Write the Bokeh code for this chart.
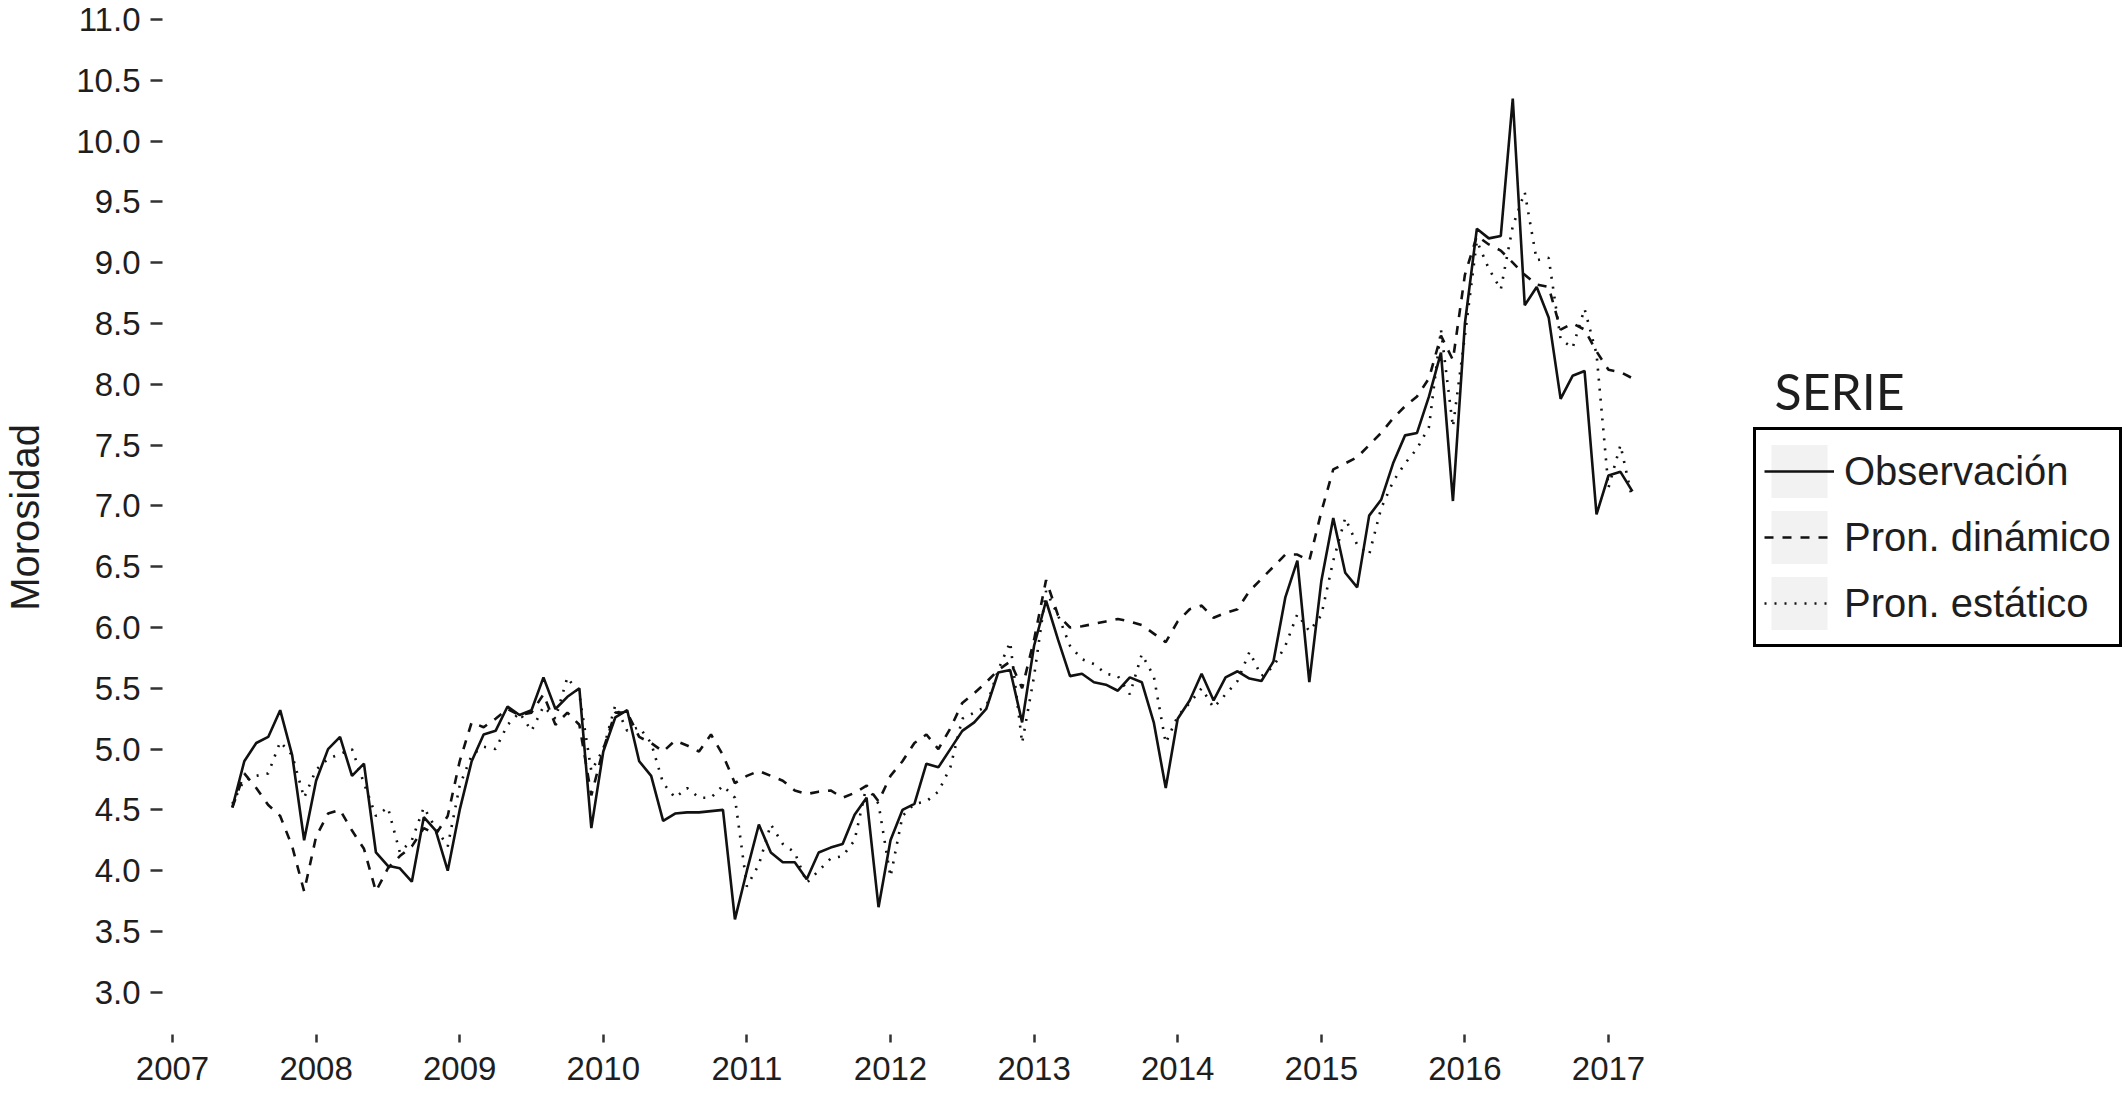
import pandas as pd
from bokeh.plotting import figure
from bokeh.models import (ColumnDataSource, Range1d, FixedTicker, PrintfTickFormatter,
                          Legend, LegendItem, Label)
from bokeh.embed import file_html
from bokeh.resources import INLINE

# ---------------- data (monthly, Jun 2007 - Mar 2017) ----------------
start_month = "2007-06-01"

observacion = [
    4.52, 4.90, 5.05, 5.10, 5.32, 4.95, 4.25,                                  # 2007 Jun-Dec
    4.74, 5.00, 5.10, 4.78, 4.88, 4.15, 4.04, 4.02, 3.91, 4.44, 4.33, 4.00,    # 2008
    4.50, 4.90, 5.12, 5.15, 5.35, 5.28, 5.32, 5.59, 5.33, 5.43, 5.50, 4.35,    # 2009
    4.98, 5.26, 5.32, 4.90, 4.78, 4.41, 4.47, 4.48, 4.48, 4.49, 4.50, 3.60,    # 2010
    4.00, 4.38, 4.15, 4.07, 4.07, 3.93, 4.15, 4.19, 4.22, 4.46, 4.60, 3.70,    # 2011
    4.25, 4.50, 4.55, 4.88, 4.85, 5.00, 5.15, 5.22, 5.33, 5.63, 5.65, 5.22,    # 2012
    5.85, 6.22, 5.90, 5.60, 5.62, 5.55, 5.53, 5.48, 5.59, 5.55, 5.22, 4.68,    # 2013
    5.25, 5.40, 5.62, 5.40, 5.59, 5.64, 5.58, 5.56, 5.72, 6.25, 6.55, 5.55,    # 2014
    6.38, 6.90, 6.45, 6.33, 6.92, 7.05, 7.35, 7.58, 7.60, 7.90, 8.26, 7.04,    # 2015
    8.50, 9.28, 9.20, 9.22, 10.35, 8.65, 8.80, 8.55, 7.88, 8.07, 8.11, 6.93,   # 2016
    7.25, 7.28, 7.12,                                                          # 2017 Jan-Mar
]

pron_dinamico = [
    4.52, 4.80, 4.68, 4.54, 4.45, 4.20, 3.83,
    4.28, 4.47, 4.50, 4.33, 4.18, 3.83, 4.02, 4.12, 4.20, 4.35, 4.30, 4.45,
    4.90, 5.22, 5.18, 5.25, 5.33, 5.28, 5.30, 5.45, 5.20, 5.30, 5.20, 4.62,
    5.00, 5.30, 5.30, 5.10, 5.05, 4.98, 5.07, 5.03, 4.98, 5.12, 4.95, 4.72,
    4.78, 4.82, 4.78, 4.74, 4.66, 4.63, 4.65, 4.66, 4.60, 4.64, 4.70, 4.57,
    4.78, 4.90, 5.05, 5.12, 5.00, 5.17, 5.38, 5.46, 5.55, 5.65, 5.72, 5.50,
    5.90, 6.39, 6.10, 6.00, 6.01, 6.03, 6.05, 6.07, 6.05, 6.02, 5.95, 5.88,
    6.05, 6.15, 6.18, 6.08, 6.12, 6.15, 6.30, 6.40, 6.50, 6.60, 6.60, 6.55,
    6.95, 7.30, 7.35, 7.40, 7.50, 7.60, 7.72, 7.82, 7.90, 8.05, 8.40, 8.20,
    8.90, 9.22, 9.15, 9.10, 9.00, 8.90, 8.82, 8.80, 8.45, 8.50, 8.45, 8.27,
    8.12, 8.10, 8.05,
]

pron_estatico = [
    4.55, 4.75, 4.78, 4.80, 5.06, 4.95, 4.60,
    4.83, 4.92, 4.96, 5.00, 4.72, 4.45, 4.52, 4.15, 4.25, 4.52, 4.35, 4.20,
    4.70, 4.95, 5.02, 5.00, 5.20, 5.30, 5.15, 5.35, 5.25, 5.59, 5.45, 4.82,
    5.00, 5.36, 5.15, 5.18, 5.05, 4.72, 4.60, 4.68, 4.60, 4.60, 4.70, 4.60,
    3.87, 4.05, 4.38, 4.22, 4.15, 3.90, 4.00, 4.10, 4.12, 4.25, 4.70, 4.55,
    3.95, 4.45, 4.55, 4.57, 4.65, 4.85, 5.25, 5.30, 5.35, 5.65, 5.88, 5.05,
    5.60, 6.30, 6.10, 5.85, 5.74, 5.70, 5.62, 5.60, 5.45, 5.78, 5.60, 5.05,
    5.27, 5.38, 5.50, 5.34, 5.45, 5.56, 5.80, 5.60, 5.68, 5.85, 6.11, 5.97,
    6.10, 6.55, 6.90, 6.68, 6.60, 6.98, 7.20, 7.35, 7.47, 7.65, 8.45, 7.65,
    8.40, 9.18, 8.95, 8.78, 9.30, 9.58, 9.02, 9.04, 8.37, 8.30, 8.62, 8.25,
    7.15, 7.50, 7.05,
]

series_labels = ["Observación", "Pron. dinámico", "Pron. estático"]
legend_title = "SERIE"
y_label = "Morosidad"
year_ticks = [2007, 2008, 2009, 2010, 2011, 2012, 2013, 2014, 2015, 2016, 2017]
y_ticks = [3.0, 3.5, 4.0, 4.5, 5.0, 5.5, 6.0, 6.5, 7.0, 7.5, 8.0, 8.5, 9.0, 9.5,
           10.0, 10.5, 11.0]

dates = pd.date_range(start_month, periods=len(observacion), freq="MS")
x_dec = [d.year + (d.month - 1) / 12.0 for d in dates]

src = ColumnDataSource(dict(x=x_dec, obs=observacion, dyn=pron_dinamico, sta=pron_estatico))

# ---------------- figure ----------------
# The plotting frame spans the whole area right of the y axis (the legend sits inside it,
# to the right of the data); there is no outline, grid or axis line, so this is invisible.
LEFT = 161
TOTAL_W, TOTAL_H = 2125, 1094
FRAME_W, FRAME_H = TOTAL_W - LEFT, 1034
X0 = 2006.9304
PX_PER_YEAR = 143.6
PX_PER_UNIT = 121.6
Y_TOP = 11.0 + 19 / PX_PER_UNIT
p = figure(frame_width=FRAME_W, frame_height=FRAME_H,
           x_range=Range1d(X0, X0 + FRAME_W / PX_PER_YEAR),
           y_range=Range1d(Y_TOP - FRAME_H / PX_PER_UNIT, Y_TOP),
           output_backend="svg", toolbar_location=None,
           min_border_left=LEFT, min_border_right=0,
           min_border_top=0, min_border_bottom=TOTAL_H - FRAME_H)
p.background_fill_color = "white"
p.border_fill_color = "white"
p.outline_line_color = None
p.xgrid.visible = False
p.ygrid.visible = False

TXT = "#1e1e1e"
FONT = "Liberation Sans"

# axes
p.xaxis.ticker = FixedTicker(ticks=year_ticks)
p.xaxis.minor_tick_line_color = None
p.xaxis.axis_line_color = None
p.xaxis.major_tick_in = 0
p.xaxis.major_tick_out = 8
p.xaxis.major_tick_line_width = 2.5
p.xaxis.major_tick_line_color = "#333333"
p.xaxis.major_label_standoff = 14
p.xaxis.major_label_text_font = FONT
p.xaxis.major_label_text_font_size = "33px"
p.xaxis.major_label_text_color = TXT

p.yaxis.ticker = FixedTicker(ticks=y_ticks)
p.yaxis.formatter = PrintfTickFormatter(format="%.1f")
p.yaxis.minor_tick_line_color = None
p.yaxis.axis_line_color = None
p.yaxis.major_tick_in = 0
p.yaxis.major_tick_out = 12
p.yaxis.major_tick_line_width = 2.5
p.yaxis.major_tick_line_color = "#333333"
p.yaxis.major_label_standoff = 10
p.yaxis.major_label_text_font = FONT
p.yaxis.major_label_text_font_size = "33px"
p.yaxis.major_label_text_color = TXT
p.yaxis.axis_label = y_label
p.yaxis.axis_label_text_font = FONT
p.yaxis.axis_label_text_font_size = "40px"
p.yaxis.axis_label_text_font_style = "normal"
p.yaxis.axis_label_text_color = TXT
p.yaxis.axis_label_standoff = 26

# legend key background helper (zero-size rects, invisible in the plot)
key_bg = p.rect(x="x", y="obs", width=0, height=0, source=src,
                fill_color="#f2f2f2", line_color=None)

LINE = "#111111"
r_sta = p.line("x", "sta", source=src, line_color=LINE, line_width=2.6, line_dash="2 8")
r_dyn = p.line("x", "dyn", source=src, line_color=LINE, line_width=2.6, line_dash="9 9")
r_obs = p.line("x", "obs", source=src, line_color=LINE, line_width=2.6)

legend = Legend(items=[
    LegendItem(label=series_labels[0], renderers=[key_bg, r_obs]),
    LegendItem(label=series_labels[1], renderers=[key_bg, r_dyn]),
    LegendItem(label=series_labels[2], renderers=[key_bg, r_sta]),
], location=(1752 - LEFT, FRAME_H - 647), orientation="vertical",
    glyph_width=70, glyph_height=66, label_height=66, spacing=0,
    padding=8, margin=0, label_standoff=10,
    label_text_font=FONT, label_text_font_size="40px", label_text_color=TXT,
    label_text_baseline="middle",
    border_line_color="black", border_line_alpha=1.0, border_line_width=3.5,
    background_fill_color="white", background_fill_alpha=1.0)
p.add_layout(legend)

title_lbl = Label(x=1773 - LEFT, y=FRAME_H - 390, x_units="screen", y_units="screen",
                  text=legend_title,
                  text_font="Lato", text_font_size="50px", text_color=TXT,
                  text_baseline="alphabetic", text_align="left")
p.add_layout(title_lbl)

open("out.html", "w").write(file_html(p, INLINE))
